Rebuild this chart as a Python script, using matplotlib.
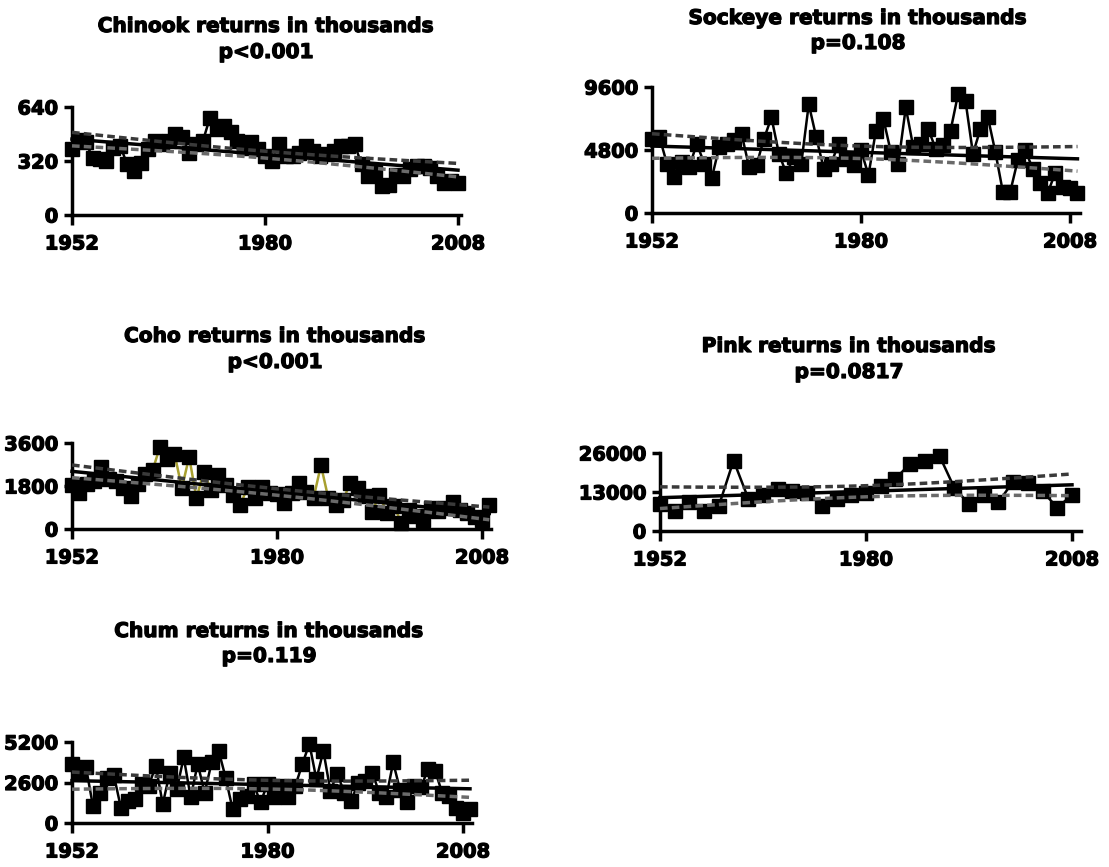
import numpy as np
import matplotlib
matplotlib.use("Agg")
import matplotlib.pyplot as plt
import matplotlib.patheffects as pe

# ---------------- data (thousands of fish) ----------------
chinook_years = list(range(1952, 2009))
chinook = [390, 445, 430, 340, 330, 320, 400, 410, 300, 260, 310, 390, 440, 420, 440,
           480, 460, 370, 420, 440, 575, 510, 530, 490, 440, 400, 430, 390, 350, 320,
           420, 350, 350, 370, 410, 380, 350, 360, 380, 410, 410, 420, 300, 230, 260,
           170, 180, 240, 230, 270, 290, 290, 280, 230, 190, 200, 190]

sockeye_years = list(range(1952, 2010))
sockeye = [5650, 5780, 3770, 2760, 3900, 3520, 5280, 3770, 2640, 5030, 5280, 5530, 6030,
           3520, 3650, 5650, 7290, 4520, 3020, 4270, 3770, 8290, 5780, 3390, 3770, 5280,
           4150, 3650, 4780, 2890, 6280, 7160, 4650, 3770, 8040, 5030, 5280, 6410, 4900,
           5150, 6280, 9050, 8540, 4520, 6410, 7290, 4650, 1630, 1630, 4020, 4780, 3390,
           2260, 1510, 3020, 2010, 1890, 1510]

coho_years = list(range(1952, 2010))
coho = [1840, 1500, 1900, 2000, 2600, 2100, 2000, 1700, 1400, 1900, 2300, 2450, 3430,
        2950, 3160, 1700, 3020, 1290, 2400, 1630, 2260, 1840, 1430, 1010, 1770, 1290,
        1770, 1500, 1450, 1100, 1500, 1910, 1550, 1300, 2670, 1300, 1010, 1200, 1910,
        1700, 1400, 730, 1430, 660, 950, 250, 800, 530, 390, 880, 750, 900, 1150, 800,
        650, 500, 390, 1010]

pink_years = list(range(1952, 2009, 2))
pink = [9000, 6600, 9600, 6600, 8400, 23500, 10800, 12000, 14000, 13200, 12800, 8400,
        10800, 12000, 12600, 15000, 17400, 22500, 23500, 25000, 14400, 9000, 12000, 9600,
        16500, 16000, 13200, 7800, 12000]

chum_years = list(range(1952, 2010))
chum = [3800, 3240, 3590, 1090, 1950, 2920, 3050, 990, 1430, 1530, 2500, 2400, 3670,
        1210, 3240, 2160, 4210, 1640, 3800, 1940, 3890, 4640, 2920, 890, 1530, 1750,
        2500, 1320, 2500, 1640, 2400, 1640, 2400, 3800, 5090, 2800, 4640, 2080, 3150,
        1950, 1430, 2600, 2700, 3240, 1950, 1640, 3890, 2100, 1320, 2400, 2300, 3480,
        3370, 1950, 1750, 990, 670, 890]

titles = ["Chinook returns in thousands", "Sockeye returns in thousands",
          "Coho returns in thousands", "Pink returns in thousands",
          "Chum returns in thousands"]
pvals = ["p<0.001", "p=0.108", "p<0.001", "p=0.0817", "p=0.119"]
ymaxes = [640, 9600, 3600, 26000, 5200]
xticks = [1952, 1980, 2008]

# ---------------- layout (pixels) ----------------
W, H = 1109, 867
fig = plt.figure(figsize=(W / 100, H / 100), dpi=100)
FONT = "DejaVu Sans"
heavy = [pe.withStroke(linewidth=0.9, foreground="black")]

# x0 (spine), x at 2008, x1 (axis end), y top, y bottom
boxes = [(72, 458, 461, 107, 215),
         (652, 1070, 1080, 87, 213),
         (72, 482, 491, 443, 529),
         (660, 1072, 1081, 453, 531),
         (72, 463, 472, 742, 823)]
title_pos = [(266, 32, 58), (858, 24, 49), (275, 342, 368), (849, 352, 378),
             (269, 637, 662)]

series = [(chinook_years, chinook), (sockeye_years, sockeye), (coho_years, coho),
          (pink_years, pink), (chum_years, chum)]
line_colors = ["black", "black", "#a8a030", "black", "black"]

for i, ((yrs, vals), (x0, x2008, x1, yt, yb)) in enumerate(zip(series, boxes)):
    ax = fig.add_axes([x0 / W, 1 - yb / H, (x1 - x0) / W, (yb - yt) / H])
    pxyr = (x2008 - x0) / 56.0
    ax.set_xlim(1952, 1952 + (x1 - x0) / pxyr)
    ax.set_ylim(0, ymaxes[i])

    yrs_a = np.array(yrs, dtype=float)
    vals_a = np.array(vals, dtype=float)

    # data series
    ax.plot(yrs_a, vals_a, color=line_colors[i], lw=1.8, zorder=3, clip_on=False)
    ax.plot(yrs_a, vals_a, ls="none", marker="s", ms=9.5, color="black", zorder=4,
            clip_on=False)

    # linear regression and 95% confidence band
    b, a = np.polyfit(yrs_a, vals_a, 1)
    xf = np.linspace(yrs_a.min(), yrs_a.max(), 100)
    yf = a + b * xf
    n = len(yrs_a)
    resid = vals_a - (a + b * yrs_a)
    s = np.sqrt(np.sum(resid ** 2) / (n - 2))
    se = s * np.sqrt(1 / n + (xf - yrs_a.mean()) ** 2 / np.sum((yrs_a - yrs_a.mean()) ** 2))
    ax.plot(xf, yf, color="black", lw=2.5, zorder=5, clip_on=False)
    ax.plot(xf, yf + 2.0 * se, color="#3a3a3a", lw=2.5, ls=(0, (2.2, 1.2)), zorder=5,
            clip_on=False)
    ax.plot(xf, yf - 2.0 * se, color="#6a6a6a", lw=2.5, ls=(0, (2.2, 1.2)), zorder=5,
            clip_on=False)

    for sp in ["top", "right"]:
        ax.spines[sp].set_visible(False)
    for sp in ["left", "bottom"]:
        ax.spines[sp].set_linewidth(2.5)
    ax.set_xticks(xticks)
    ax.set_xticklabels([str(t) for t in xticks])
    ax.set_yticks([0, ymaxes[i] // 2, ymaxes[i]])
    ax.set_yticklabels([str(v) for v in [0, ymaxes[i] // 2, ymaxes[i]]])
    ax.tick_params(axis="x", direction="out", length=7, width=2.5, labelsize=14,
                   pad=7)
    ax.tick_params(axis="y", direction="out", length=6, width=2.5, labelsize=14,
                   pad=4)
    for lab in ax.get_xticklabels() + ax.get_yticklabels():
        lab.set_fontweight("bold")
        lab.set_family(FONT)
        lab.set_path_effects(heavy)

    tx, b1, b2 = title_pos[i]
    fig.text(tx / W, 1 - b1 / H, titles[i], ha="center", va="baseline", fontsize=14.5,
             fontweight="bold", family=FONT, path_effects=heavy)
    fig.text(tx / W, 1 - b2 / H, pvals[i], ha="center", va="baseline", fontsize=14.5,
             fontweight="bold", family=FONT, path_effects=heavy)

fig.savefig("out.png", dpi=100)
